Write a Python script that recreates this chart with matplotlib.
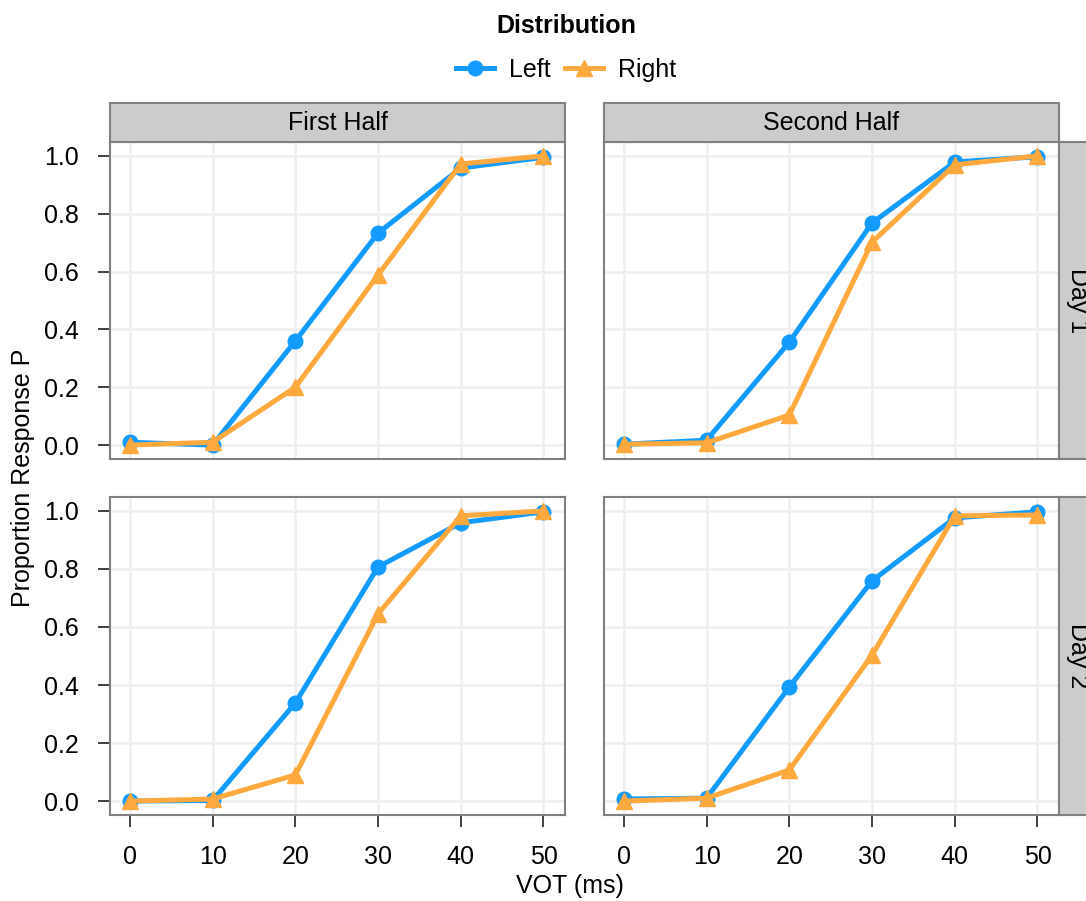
import matplotlib.pyplot as plt
from matplotlib.lines import Line2D

plt.rcParams['font.family'] = ['Liberation Sans', 'DejaVu Sans']

vot = [0, 10, 20, 30, 40, 50]
halves = ['First Half', 'Second Half']
days = ['Day 1', 'Day 2']

# proportion of P responses, per (day, half)
left = {
    ('Day 1', 'First Half'): [0.01, 0.0, 0.36, 0.733, 0.958, 0.995],
    ('Day 1', 'Second Half'): [0.003, 0.017, 0.356, 0.768, 0.979, 0.997],
    ('Day 2', 'First Half'): [0.0, 0.002, 0.338, 0.807, 0.959, 0.997],
    ('Day 2', 'Second Half'): [0.007, 0.01, 0.393, 0.759, 0.976, 0.997],
}
right = {
    ('Day 1', 'First Half'): [0.0, 0.01, 0.2, 0.588, 0.972, 1.0],
    ('Day 1', 'Second Half'): [0.003, 0.008, 0.104, 0.702, 0.969, 1.0],
    ('Day 2', 'First Half'): [0.0, 0.007, 0.09, 0.645, 0.983, 1.0],
    ('Day 2', 'Second Half'): [0.0, 0.01, 0.107, 0.503, 0.983, 0.986],
}

blue = '#149BFF'
orange = '#FFA93F'
edge = '#808080'
fs = 18

W, H = 1086, 901
fig = plt.figure(figsize=(W / 100, H / 100), dpi=100)

def box(x0, y0, x1, y1):
    return [x0 / W, 1 - y1 / H, (x1 - x0) / W, (y1 - y0) / H]

cols = [(110, 565), (604, 1059)]
rows = [(142, 459), (497, 815)]

for r, day in enumerate(days):
    for c, half in enumerate(halves):
        x0, x1 = cols[c]
        y0, y1 = rows[r]
        ax = fig.add_axes(box(x0, y0, x1, y1))
        ax.plot(vot, left[(day, half)], color=blue, lw=3.6, marker='o', ms=10.5,
                zorder=3)
        ax.plot(vot, right[(day, half)], color=orange, lw=3.6, marker='^', ms=12,
                zorder=4)
        ax.set_xlim(-2.4, 52.6)
        ax.set_ylim(-0.048, 1.048)
        ax.set_xticks(vot)
        ax.set_yticks([0, 0.2, 0.4, 0.6, 0.8, 1.0])
        ax.set_yticklabels(['0.0', '0.2', '0.4', '0.6', '0.8', '1.0'])
        ax.grid(True, color='#F0F0F0', lw=2, zorder=0)
        ax.set_axisbelow(True)
        for s in ax.spines.values():
            s.set_color(edge)
            s.set_linewidth(1.5)
        ax.tick_params(direction='out', length=8.5, width=1.3, color='#333333',
                       labelsize=fs, labelcolor='black')
        ax.tick_params(axis='x', pad=13)
        ax.tick_params(axis='y', pad=14)
        if c == 1:
            ax.tick_params(axis='y', left=False, labelleft=False)
        if r == 0:
            ax.tick_params(axis='x', bottom=False, labelbottom=False)
        if r == 0:
            st = fig.add_axes(box(x0, 103, x1, y0))
            st.set_facecolor('#CCCCCC')
            st.set_xticks([])
            st.set_yticks([])
            for s in st.spines.values():
                s.set_color(edge)
                s.set_linewidth(1.5)
            st.text(0.5, 0.5, half, ha='center', va='center', fontsize=fs,
                    transform=st.transAxes)
        if c == 1:
            st = fig.add_axes(box(x1, y0, x1 + 39, y1))
            st.set_facecolor('#CCCCCC')
            st.set_xticks([])
            st.set_yticks([])
            for s in st.spines.values():
                s.set_color(edge)
                s.set_linewidth(1.5)
            st.text(0.5, 0.5, day, ha='center', va='center', fontsize=fs,
                    rotation=-90, transform=st.transAxes)

fig.text(23 / W, 1 - 478 / H, 'Proportion Response P', rotation=90,
         ha='center', va='center', fontsize=fs)
fig.text(570 / W, 1 - 886 / H, 'VOT (ms)', ha='center', va='center',
         fontsize=fs)

handles = [
    Line2D([], [], color=blue, lw=3.6, marker='o', ms=10.5),
    Line2D([], [], color=orange, lw=3.6, marker='^', ms=12),
]
leg = fig.legend(handles, ['Left', 'Right'], title='Distribution',
                 loc='upper center', bbox_to_anchor=(566 / W, 1 + 8 / H),
                 ncol=2, frameon=False, fontsize=fs, handlelength=1.5,
                 columnspacing=0.6, handletextpad=0.6)
leg.get_title().set_fontweight('bold')
leg.get_title().set_fontsize(fs)
leg._legend_box.sep = 14

fig.savefig('out.png', dpi=100)
